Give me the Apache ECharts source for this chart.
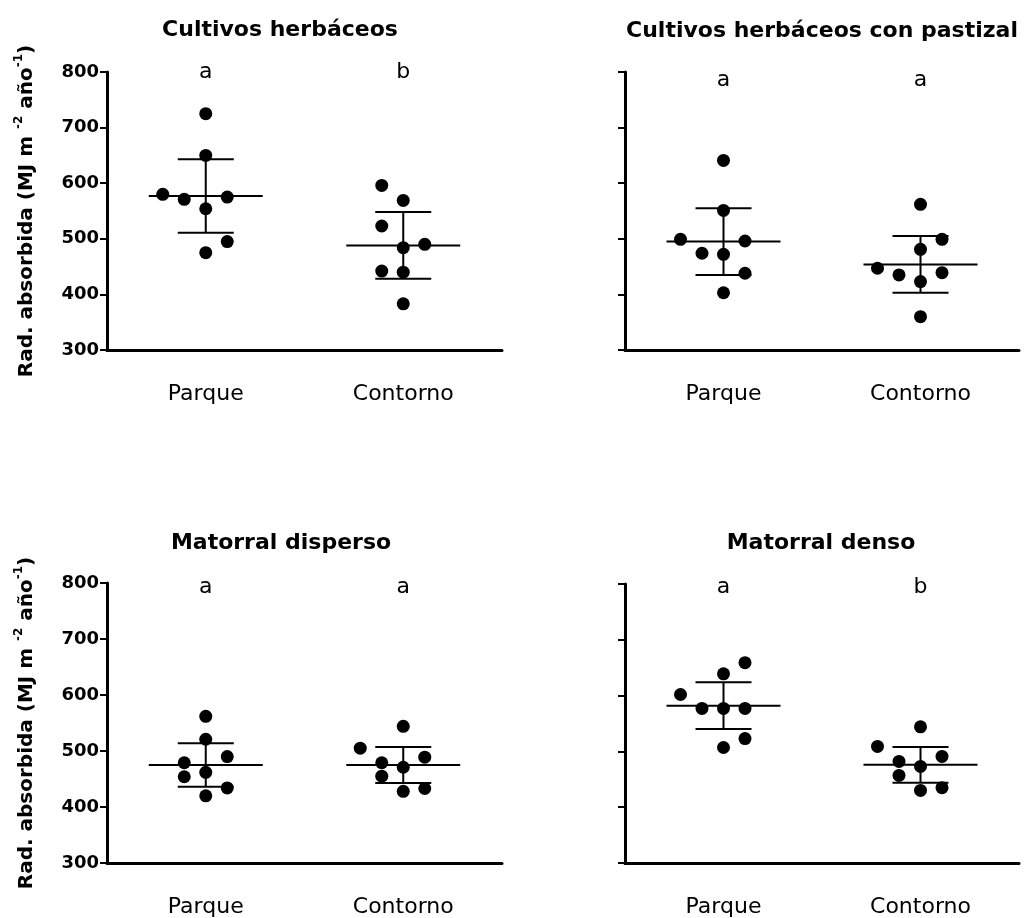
<!DOCTYPE html>
<html>
<head>
<meta charset="utf-8">
<script src="https://cdn.jsdelivr.net/npm/echarts@6/dist/echarts.min.js"></script>
<style>html,body{margin:0;padding:0;background:#fff}#c{width:1029px;height:918px}</style>
</head>
<body>
<div id="c"></div>
<script>
// ---- data ----
const categories = ['Parque', 'Contorno'];
const panelTitles = ['Cultivos herbáceos', 'Cultivos herbáceos con pastizal', 'Matorral disperso', 'Matorral denso'];
const yTicks = [300, 400, 500, 600, 700, 800];
const letters = [['a', 'b'], ['a', 'a'], ['a', 'a'], ['a', 'b']];

// individual values per panel (Parque / Contorno)
const p1Parque   = [725, 650, 580, 571, 575, 554, 495, 475];
const p1Contorno = [596, 569, 523, 484, 490, 442, 440, 383];
const p2Parque   = [641, 551, 499, 496, 474, 472, 438, 403];
const p2Contorno = [562, 499, 481, 447, 435, 439, 423, 360];
const p3Parque   = [562, 521, 490, 479, 462, 454, 434, 420];
const p3Contorno = [544, 505, 489, 479, 471, 455, 428, 433];
const p4Parque   = [659, 639, 602, 577, 577, 577, 523, 507];
const p4Contorno = [544, 509, 491, 482, 473, 457, 430, 435];

// jitter column of each point (scatter-dot layout)
const p1ParqueCol   = [0, 0, -2, -1, 1, 0, 1, 0];
const p1ContornoCol = [-1, 0, -1, 0, 1, -1, 0, 0];
const p2ParqueCol   = [0, 0, -2, 1, -1, 0, 1, 0];
const p2ContornoCol = [0, 1, 0, -2, -1, 1, 0, 0];
const p3ParqueCol   = [0, 0, 1, -1, 0, -1, 1, 0];
const p3ContornoCol = [0, -2, 1, -1, 0, -1, 0, 1];
const p4ParqueCol   = [1, 0, -2, -1, 0, 1, 1, 0];
const p4ContornoCol = [0, -2, 1, -1, 0, -1, 0, 1];

// mean and SD per panel [Parque, Contorno]
const means = [[577, 488], [495, 454], [475, 475], [582, 476]];
const sds   = [[66, 60], [60, 51], [39, 32], [42, 32]];

// ---- layout / style ----
const panels = [
  {vals: [p1Parque, p1Contorno], cols: [p1ParqueCol, p1ContornoCol]},
  {vals: [p2Parque, p2Contorno], cols: [p2ParqueCol, p2ContornoCol]},
  {vals: [p3Parque, p3Contorno], cols: [p3ParqueCol, p3ContornoCol]},
  {vals: [p4Parque, p4Contorno], cols: [p4ParqueCol, p4ContornoCol]}
];
const grids = [
  {left: 107, top: 72, width: 395, height: 278},
  {left: 625, top: 72, width: 394, height: 278},
  {left: 107, top: 583, width: 395, height: 280},
  {left: 625, top: 584, width: 394, height: 280}
];
const titlePos = [[275, 14], [817, 15], [276, 527], [816, 527]];
const letterShift = [0, 8, 4, 3];
const showYLabels = [true, false, true, false];
const JIT = 21.5;
const FONT = 'DejaVu Sans';

const option = {
  backgroundColor: '#fff',
  animation: false,
  title: panelTitles.map((t, i) => ({
    text: t, left: titlePos[i][0], top: titlePos[i][1], textAlign: 'center',
    textStyle: {fontFamily: FONT, fontWeight: 'bold', fontSize: 22, color: '#000'}
  })),
  grid: grids,
  xAxis: grids.map((g, i) => ({
    type: 'category', gridIndex: i, data: categories, boundaryGap: true,
    axisLine: {show: true, lineStyle: {color: '#000', width: 3}},
    axisTick: {show: false},
    axisLabel: {fontFamily: FONT, fontSize: 22, color: '#000', margin: 33},
    splitLine: {show: false}
  })),
  yAxis: grids.map((g, i) => ({
    type: 'value', gridIndex: i, min: yTicks[0], max: yTicks[yTicks.length - 1], interval: 100,
    axisLine: {show: true, lineStyle: {color: '#000', width: 3}},
    axisTick: {show: true, length: 7, lineStyle: {color: '#000', width: 2}},
    axisLabel: {show: showYLabels[i], fontFamily: FONT, fontWeight: 'bold', fontSize: 18, color: '#000', margin: 8},
    splitLine: {show: false},
    name: showYLabels[i] ? '{m|Rad. absorbida (MJ m }{s|-2}{m| año}{s|-1}{m|)}' : '',
    nameLocation: 'middle', nameRotate: 90, nameGap: 70,
    nameTextStyle: {
      rich: {
        m: {fontFamily: FONT, fontWeight: 'bold', fontSize: 20, color: '#000', lineHeight: 24, verticalAlign: 'bottom'},
        s: {fontFamily: FONT, fontWeight: 'bold', fontSize: 12, color: '#000', lineHeight: 24, verticalAlign: 'top'}
      }
    }
  })),
  series: []
};

panels.forEach((p, i) => {
  // points
  for (let c = 0; c < 2; c++) {
    option.series.push({
      type: 'scatter', xAxisIndex: i, yAxisIndex: i,
      symbol: 'circle', symbolSize: 13,
      itemStyle: {color: '#000', opacity: 1},
      z: 3,
      data: p.vals[c].map((v, k) => ({value: [c, v], symbolOffset: [p.cols[c][k] * JIT, 0]}))
    });
  }
  // mean +- SD
  option.series.push({
    type: 'custom', xAxisIndex: i, yAxisIndex: i, z: 4,
    data: [0, 1].map(c => [c, means[i][c], sds[i][c]]),
    renderItem: (params, api) => {
      const cat = api.value(0), m = api.value(1), s = api.value(2);
      const pm = api.coord([cat, m]);
      const pu = api.coord([cat, m + s]);
      const pl = api.coord([cat, m - s]);
      const st = {stroke: '#000', lineWidth: 2};
      const ln = (x1, y1, x2, y2) => ({type: 'line', shape: {x1, y1, x2, y2}, style: st});
      return {type: 'group', children: [
        ln(pm[0] - 57, pm[1], pm[0] + 57, pm[1]),
        ln(pu[0] - 28, pu[1], pu[0] + 28, pu[1]),
        ln(pl[0] - 28, pl[1], pl[0] + 28, pl[1]),
        ln(pu[0], pu[1], pl[0], pl[1])
      ]};
    }
  });
  // significance letters
  option.series.push({
    type: 'scatter', xAxisIndex: i, yAxisIndex: i, symbolSize: 0, silent: true,
    itemStyle: {opacity: 1},
    data: [0, 1].map(c => ({value: [c, yTicks[yTicks.length - 1]], name: letters[i][c]})),
    label: {show: true, position: 'inside', offset: [0, letterShift[i]], formatter: d => d.name,
      fontFamily: FONT, fontSize: 22, color: '#000', opacity: 1}
  });
});

const chart = echarts.init(document.getElementById('c'), null, {renderer: 'canvas'});
chart.setOption(option);
</script>
</body>
</html>
